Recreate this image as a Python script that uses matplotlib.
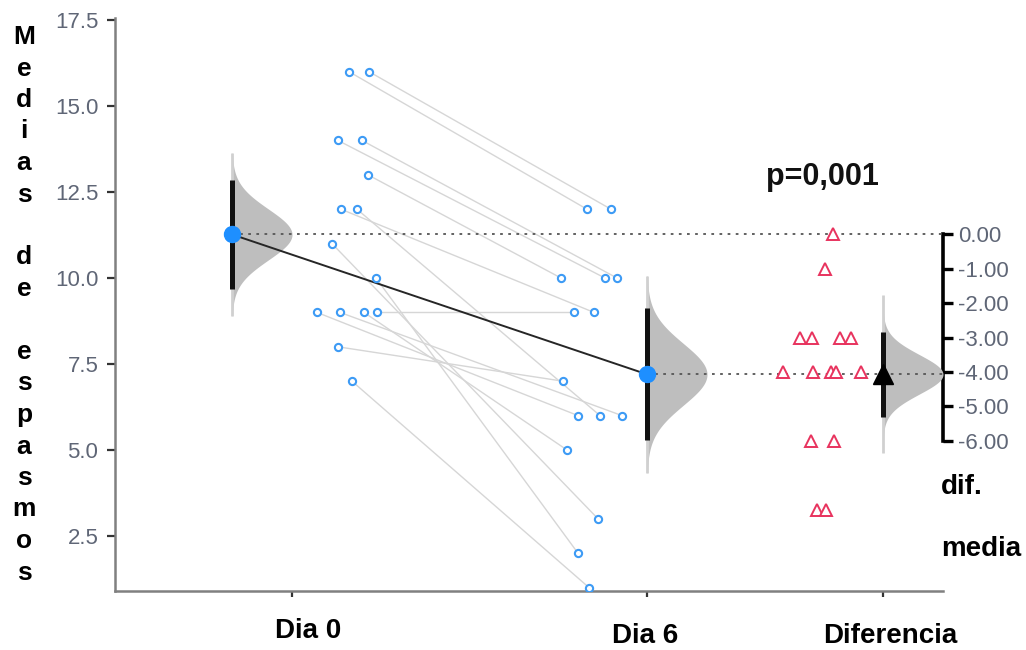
import numpy as np
import matplotlib
matplotlib.use("Agg")
import matplotlib.pyplot as plt
from matplotlib.transforms import blended_transform_factory

# ---------------- data ----------------
groups = ["Dia 0", "Dia 6", "Diferencia"]
dia0 = [16, 16, 14, 14, 13, 12, 12, 11, 10, 9, 9, 9, 9, 8, 7]
dia6 = [12, 12, 10, 10, 10, 9, 6, 3, 2, 6, 6, 5, 9, 7, 1]
yticks_left = [2.5, 5.0, 7.5, 10.0, 12.5, 15.0, 17.5]
yticks_right = [0, -1, -2, -3, -4, -5, -6]
p_text = "p=0,001"
ylabel_letters = list("Medias") + [""] + list("de") + [""] + list("espasmos")
right_label = ["dif.", "media"]

# ---------------- layout / style ----------------
W, H = 1026, 650
tick_pos = [2.92, 6.47, 8.83]          # x positions of the categories
mean_pos = [2.32, 6.47, 8.83]          # x of mean marker / CI bar
swarm_ctr = [3.47, 5.90, 8.22]         # centre of raw-point swarms
jit0 = [0.02, 0.22, -0.09, 0.15, 0.21, -0.06, 0.10, -0.15, 0.29, -0.30, -0.07, 0.17, 0.30, -0.09, 0.05]
jit6 = [-0.03, 0.21, 0.15, 0.27, -0.29, 0.04, 0.10, 0.08, -0.12, -0.12, 0.32, -0.23, -0.16, -0.27, -0.01]
jitd = [-0.39, -0.09, 0.09, 0.14, -0.22, -0.10, -0.11, -0.05, 0.04, 0.18, 0.29, 0.39, 0.11, 0.03, 0.12]
tail_k = [3.2, 3.2, 4.0]
violin_w = 0.60
tcrit = 2.145

blue = "#1E8FFF"
pt_blue = "#3D9BF5"
red = "#E8335E"
tick_col = "#5F6676"
spine_col = "#808080"
bold_fam = ["Liberation Sans", "DejaVu Sans"]

a0 = np.array(dia0, float)
a6 = np.array(dia6, float)
d = a6 - a0
m0, m6, md = a0.mean(), a6.mean(), d.mean()
n = len(a0)
se = [a0.std(ddof=1) / np.sqrt(n), a6.std(ddof=1) / np.sqrt(n), d.std(ddof=1) / np.sqrt(n)]
centres = [m0, m6, m0 + md]

fig = plt.figure(figsize=(W / 100, H / 100), dpi=100)
ax = fig.add_axes([115 / W, 1 - 591 / H, (943 - 115) / W, (591 - 18) / H])
ax.set_xlim(1.15, 9.43)
ax.set_ylim(0.90, 17.56)

# paired lines
x0 = [swarm_ctr[0] + j for j in jit0]
x6 = [swarm_ctr[1] + j for j in jit6]
xd = [swarm_ctr[2] + j for j in jitd]
for i in range(n):
    ax.plot([x0[i], x6[i]], [a0[i], a6[i]], color="#D6D6D6", lw=1.0, zorder=1)

# dotted reference lines
ax.plot([mean_pos[0], 9.43], [m0, m0], color="#555555", lw=1.3, ls=(0, (1.5, 3)), zorder=6, clip_on=False)
ax.plot([mean_pos[1], 9.43], [m6, m6], color="#555555", lw=1.3, ls=(0, (1.5, 3)), zorder=6, clip_on=False)

# mean connecting line
ax.plot([mean_pos[0], mean_pos[1]], [m0, m6], color="#262626", lw=1.4, zorder=3)

# half violins + CI bars
for k in range(3):
    c, s, xm = centres[k], se[k], mean_pos[k]
    yy = np.linspace(c - tail_k[k] * s, c + tail_k[k] * s, 300)
    pdf = np.exp(-0.5 * ((yy - c) / s) ** 2)
    ax.fill_betweenx(yy, xm, xm + violin_w * pdf / pdf.max(), color="#BEBEBE", lw=0, zorder=2)
    ax.plot([xm, xm], [yy[0], yy[-1]], color="#D0D0D0", lw=2.0, zorder=2.5, solid_capstyle="butt")
    ax.plot([xm, xm], [c - tcrit * s, c + tcrit * s], color="#111111", lw=3.6, zorder=4, solid_capstyle="butt")

# raw points
ax.plot(x0, a0, ls="none", marker="o", ms=5.2, mfc="white", mec=pt_blue, mew=1.5, zorder=7)
ax.plot(x6, a6, ls="none", marker="o", ms=5.2, mfc="white", mec=pt_blue, mew=1.5, zorder=7)
ax.plot(xd, m0 + d, ls="none", marker="^", ms=8.5, mfc="white", mec=red, mew=1.4, zorder=7)

# mean markers
ax.plot(mean_pos[:2], [m0, m6], ls="none", marker="o", ms=11.5, color=blue, zorder=8)
ax.plot([mean_pos[2]], [m0 + md], ls="none", marker="^", ms=15, color="black", zorder=8)

# axes styling
for sp in ["top", "right"]:
    ax.spines[sp].set_visible(False)
for sp in ["left", "bottom"]:
    ax.spines[sp].set_color(spine_col)
    ax.spines[sp].set_linewidth(1.8)
ax.set_yticks(yticks_left)
ax.set_yticklabels([f"{v:.1f}" for v in yticks_left])
ax.tick_params(axis="y", length=6, width=1.6, color="#333333", pad=6,
               labelsize=16, labelcolor=tick_col)
for lab in ax.get_yticklabels():
    lab.set_family(bold_fam)
ax.set_xticks(tick_pos)
ax.set_xticklabels([])
ax.tick_params(axis="x", length=4, width=1.6, color="#333333")

trans = blended_transform_factory(ax.transData, fig.transFigure)
lab_dx = [0.16, -0.02, 0.07]
lab_y = [631, 636, 636]
for k, g in enumerate(groups):
    ax.text(tick_pos[k] + lab_dx[k], 1 - lab_y[k] / H, g, transform=trans,
            ha="center", va="center", fontsize=20, fontweight="bold", family=bold_fam)

# right (difference) axis
sec = ax.secondary_yaxis("right", functions=(lambda y: y - m0, lambda v: v + m0))
sec.set_yticks(yticks_right)
sec.set_yticklabels([f"{v:.2f}" if v == 0 else "-" + f"{abs(v):.2f}" for v in yticks_right])
sec.spines["right"].set_bounds(yticks_right[-1], yticks_right[0])
sec.spines["right"].set_linewidth(2.6)
sec.spines["right"].set_color("black")
sec.tick_params(axis="y", length=7, width=2.4, color="black", pad=4,
                labelsize=16, labelcolor=tick_col)
for lab in sec.get_yticklabels():
    lab.set_family(bold_fam)

# p value text
ax.text(swarm_ctr[2], 17.5 - (185 - 20) / 34.4, p_text, ha="center", va="baseline",
        fontsize=22, fontweight="bold", family=bold_fam, color="#111111")

# vertical y label (one letter per line)
for i, ch in enumerate(ylabel_letters):
    if ch:
        fig.text(24 / W, 1 - (37 + i * 31.5) / H, ch, ha="center", va="center",
                 fontsize=19, fontweight="bold", family=bold_fam)

# right label
fig.text(941 / W, 1 - 487 / H, right_label[0], ha="left", va="center", fontsize=20,
         fontweight="bold", family=bold_fam)
fig.text(941 / W, 1 - 549 / H, right_label[1], ha="left", va="center", fontsize=20,
         fontweight="bold", family=bold_fam)

fig.savefig("out.png", dpi=100)
